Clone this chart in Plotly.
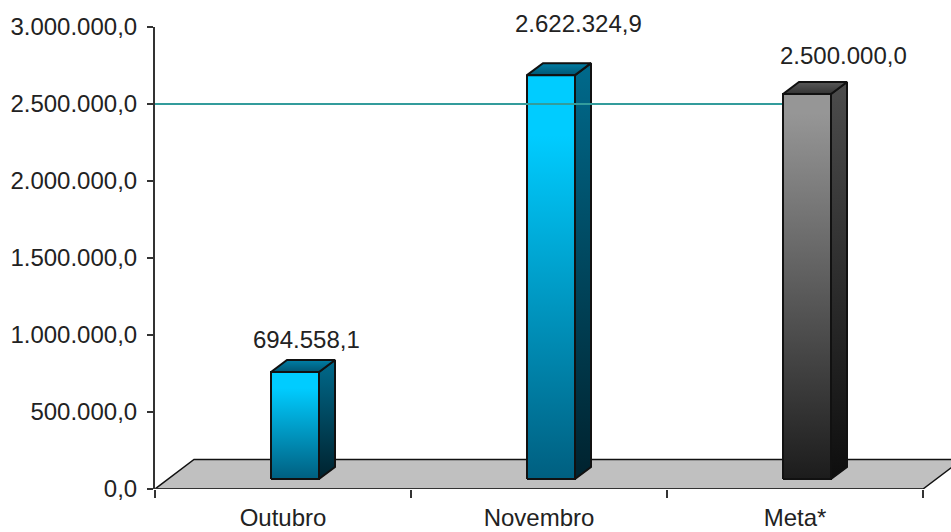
import plotly.graph_objects as go

categories = ["Outubro", "Novembro", "Meta*"]
values = [694558.1, 2622324.9, 2500000.0]
target = 2500000.0
y_ticks = [0, 500000, 1000000, 1500000, 2000000, 2500000, 3000000]

# pixel scale helpers for the pseudo-3D look
PX_X = 256
PX_Y = 462 / 3000000


def dx(px):
    return px / PX_X


def dy(px):
    return px / PX_Y


def br(v):
    return f"{v:,.1f}".replace(",", "X").replace(".", ",").replace("X", ".")


EDGE = "#111111"
BLUE = ([[0, "#005F80"], [0.85, "#00CCFF"], [1, "#00CCFF"]],
        [[0, "#00222E"], [1, "#006A8C"]],
        [[0, "#005573"], [1, "#007FA6"]])
GREY = ([[0, "#1C1C1C"], [0.95, "#969696"], [1, "#969696"]],
        [[0, "#0E0E0E"], [1, "#4C4C4C"]],
        [[0, "#333333"], [1, "#585858"]])
FACE = {"Outubro": BLUE, "Novembro": BLUE, "Meta*": GREY}


def poly(xs, ys, colors=None, solid=None, width=2):
    kw = dict(fillcolor=solid) if solid else dict(fillgradient=dict(type="vertical", colorscale=colors))
    return go.Scatter(x=xs + xs[:1], y=ys + ys[:1], mode="lines", fill="toself",
                      line=dict(color=EDGE, width=width), hoverinfo="skip",
                      showlegend=False, cliponaxis=False, **kw)


fig = go.Figure()

# floor
fx, fy = dx(39), dy(29.5)
fig.add_trace(poly([-0.5, -0.5 + fx, 2.5 + fx, 2.5], [0, fy, fy, 0], solid="#C0C0C0", width=1.5))

AX = "#333333"
# x axis line stops at the last category although the floor runs on past it
fig.add_trace(go.Scatter(x=[-0.5, 2.5], y=[0, 0], mode="lines", line=dict(color=AX, width=2),
                         hoverinfo="skip", showlegend=False, cliponaxis=False))

bar_w = dx(48)
shift_x, base = dx(12), dy(10)
depth_x, depth_y = dx(16), dy(12)


def add_bar(i):
    cat, v = categories[i], values[i]
    x0 = i + shift_x - bar_w / 2
    x1 = x0 + bar_w
    y0, y1 = base, v + base
    front, side, top = FACE[cat]
    fig.add_trace(poly([x1, x1 + depth_x, x1 + depth_x, x1],
                       [y0, y0 + depth_y, y1 + depth_y, y1], side))
    fig.add_trace(poly([x0, x0 + depth_x, x1 + depth_x, x1],
                       [y1, y1 + depth_y, y1 + depth_y, y1], top))
    fig.add_trace(poly([x0, x1, x1, x0], [y0, y0, y1, y1], front))


add_bar(0)
add_bar(1)
fig.add_trace(go.Scatter(x=[-0.5, 2 + shift_x - bar_w / 2], y=[target, target], mode="lines",
                         line=dict(color="#339C9C", width=2), hoverinfo="skip",
                         showlegend=False, cliponaxis=False))
add_bar(2)

label_shift = [(23, 33), (39, 52), (48, 39)]
for i, v in enumerate(values):
    xs, ys = label_shift[i]
    fig.add_annotation(x=i, y=v + base, text=br(v), showarrow=False, xshift=xs, yshift=ys,
                       font=dict(family="Liberation Sans", size=24, color="#222222"))

fig.update_layout(
    width=951, height=532,
    margin=dict(l=155, r=0, t=27, b=43, autoexpand=False),
    paper_bgcolor="white", plot_bgcolor="white",
    separators=",.",
    font=dict(family="Liberation Sans", size=24, color="#222222"),
    showlegend=False,
    xaxis=dict(range=[-0.5, -0.5 + 796 / PX_X], tickmode="array", tickvals=[0, 1, 2], ticktext=categories,
               ticks="", showgrid=False, zeroline=False, showline=False,
               ticklabelstandoff=12,
               minor=dict(tickmode="array", tickvals=[-0.5, 0.5, 1.5, 2.5], ticks="outside",
                          ticklen=8, tickcolor=AX, tickwidth=1.5, showgrid=False)),
    yaxis=dict(range=[0, 3000000], tickmode="array", tickvals=y_ticks, tickformat=",.1f",
               ticks="outside", ticklen=6, tickcolor=AX, tickwidth=1.5, showgrid=False, zeroline=False,
               ticklabelstandoff=5,
               showline=True, linecolor=AX, linewidth=2),
)

fig.write_html("out.html", post_script="document.body.style.margin='0';",
               config={"displayModeBar": False})
